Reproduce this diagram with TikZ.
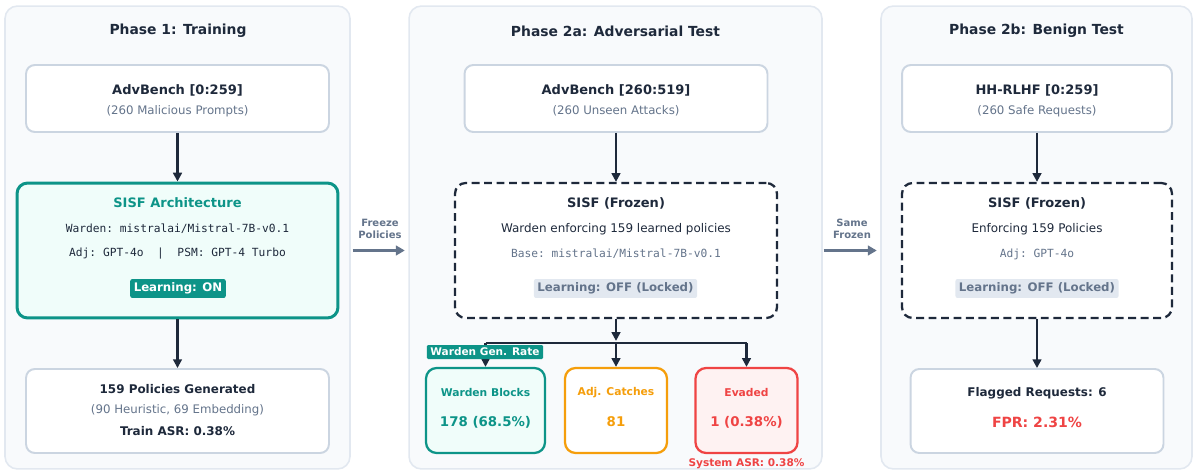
\documentclass[tikz,border=0pt]{standalone}
\usepackage{fontspec}
\setmainfont{DejaVu Sans}
\setmonofont{DejaVu Sans Mono}
\usetikzlibrary{arrows.meta}

\definecolor{ink}{HTML}{1E293B}
\definecolor{muted}{HTML}{64748B}
\definecolor{boxline}{HTML}{CBD5E1}
\definecolor{panelbg}{HTML}{F8FAFC}
\definecolor{panelline}{HTML}{E2E8F0}
\definecolor{sisfteal}{HTML}{0D9488}
\definecolor{tealbg}{HTML}{F0FDFA}
\definecolor{adjorange}{HTML}{F59E0B}
\definecolor{evdred}{HTML}{EF4444}
\definecolor{redbg}{HTML}{FEF2F2}
\definecolor{lockbg}{HTML}{E2E8F0}

\tikzset{
  panel/.style={draw=panelline, fill=panelbg, line width=0.9pt, rounded corners=7pt, minimum height=9.26cm},
  srcbox/.style={draw=boxline, fill=white, line width=1.1pt, rounded corners=5pt},
  livebox/.style={draw=sisfteal, fill=tealbg, line width=1.7pt, rounded corners=6pt},
  frozenbox/.style={draw=ink, fill=white, line width=1.3pt, rounded corners=6pt, dash pattern=on 4.5pt off 2.6pt},
  outbox/.style={line width=1.3pt, rounded corners=6pt, minimum width=2.04cm, minimum height=1.7cm},
  phasetitle/.style={text=ink, font=\bfseries\fontsize{7.9}{9}\selectfont},
  headtxt/.style={text=ink, font=\bfseries\fontsize{7.4}{9}\selectfont},
  subtxt/.style={text=muted, font=\fontsize{6.7}{8}\selectfont},
  bodytxt/.style={text=ink, font=\fontsize{6.8}{8}\selectfont},
  monotxt/.style={text=ink, font=\ttfamily\fontsize{6.4}{8}\selectfont},
  smalltxt/.style={font=\bfseries\fontsize{6.8}{8}\selectfont},
  bigtxt/.style={font=\bfseries\fontsize{7.6}{9}\selectfont},
  onbadge/.style={fill=sisfteal, text=white, font=\bfseries\fontsize{6.7}{8}\selectfont, rounded corners=1.2pt, inner xsep=2pt, inner ysep=0pt, minimum height=0.38cm},
  offbadge/.style={fill=lockbg, text=muted, font=\bfseries\fontsize{6.7}{8}\selectfont, rounded corners=1.2pt, inner xsep=2pt, inner ysep=0pt, minimum height=0.38cm},
  flowline/.style={draw=ink, line width=1.2pt},
  flowarr/.style={flowline, -{Triangle[length=5pt,width=5pt]}},
  phasearr/.style={draw=muted, line width=1.7pt, -{Triangle[length=5pt,width=5.5pt]}},
  phaselbl/.style={text=muted, align=center, font=\bfseries\fontsize{5.7}{6.9}\selectfont}
}

\begin{document}
\begin{tikzpicture}[x=0.02cm,y=-0.02cm]
\useasboundingbox (0,0) rectangle (1194,473);

% panels:
\node[panel, minimum width=6.9cm] (ph1) at (177.5,237.5) {};
\node[panel, minimum width=8.26cm] (ph2) at (615.5,237.5) {};
\node[panel, minimum width=6.22cm] (ph3) at (1036.5,237.5) {};
\node[phasetitle] (ph1t) at (178,31) {Phase 1: Training};
\node[phasetitle] (ph2t) at (615.5,31) {Phase 2a: Adversarial Test};
\node[phasetitle] (ph3t) at (1036.5,31) {Phase 2b: Benign Test};

% phase 1:
\node[srcbox, minimum width=6.06cm, minimum height=1.34cm] (adv1) at (177.5,98.5) {};
\node[headtxt] (adv1t) at (177.5,90) {AdvBench [0:259]};
\node[subtxt] (adv1s) at (177.5,111) {(260 Malicious Prompts)};

\node[livebox, minimum width=6.42cm, minimum height=2.7cm] (sisf1) at (177.5,250.5) {};
\node[headtxt, text=sisfteal] (sisf1t) at (177.5,203) {SISF Architecture};
\node[monotxt] (sisf1w) at (177.5,229) {Warden: mistralai/Mistral-7B-v0.1};
\node[monotxt] (sisf1a) at (177.5,254) {Adj: GPT-4o\ \ |\ \ PSM: GPT-4 Turbo};
\node[onbadge] (sisf1b) at (178,288.5) {Learning: ON};

\node[srcbox, minimum width=6.06cm, minimum height=1.68cm] (pol1) at (177.5,411) {};
\node[smalltxt, text=ink] (pol1t) at (177.5,389) {159 Policies Generated};
\node[subtxt] (pol1s) at (177.5,410) {(90 Heuristic, 69 Embedding)};
\node[smalltxt, text=ink] (pol1a) at (177.5,431) {Train ASR: 0.38\%};

\draw[flowarr] (adv1) -- (sisf1);
\draw[flowarr] (sisf1) -- (pol1);

% phase 2a:
\node[srcbox, minimum width=6.06cm, minimum height=1.34cm] (adv2) at (616,98.5) {};
\node[headtxt] (adv2t) at (616,90) {AdvBench [260:519]};
\node[subtxt] (adv2s) at (616,111) {(260 Unseen Attacks)};

\node[frozenbox, minimum width=6.44cm, minimum height=2.7cm] (sisf2) at (616,250.5) {};
\node[headtxt] (sisf2t) at (616,203) {SISF (Frozen)};
\node[bodytxt] (sisf2w) at (616,229) {Warden enforcing 159 learned policies};
\node[monotxt, text=muted] (sisf2m) at (616,254) {Base: mistralai/Mistral-7B-v0.1};
\node[offbadge] (sisf2b) at (615.5,288.5) {Learning: OFF (Locked)};

\node[outbox, draw=sisfteal, fill=tealbg, minimum width=2.38cm] (blk) at (485.5,410.5) {};
\node[smalltxt, text=sisfteal, font=\bfseries\fontsize{6.1}{8}\selectfont] (blkt) at (485.5,393) {Warden Blocks};
\node[bigtxt, text=sisfteal] (blkn) at (485.5,422) {178 (68.5\%)};
\node[outbox, draw=adjorange, fill=white] (adj) at (616,410.5) {};
\node[smalltxt, text=adjorange, font=\bfseries\fontsize{6.1}{8}\selectfont] (adjt) at (616,393) {Adj. Catches};
\node[bigtxt, text=adjorange] (adjn) at (616,422) {81};
\node[outbox, draw=evdred, fill=redbg] (evd) at (746.5,410.5) {};
\node[smalltxt, text=evdred, font=\bfseries\fontsize{6.1}{8}\selectfont] (evdt) at (746.5,393) {Evaded};
\node[bigtxt, text=evdred] (evdn) at (746.5,422) {1 (0.38\%)};
\node[text=evdred, font=\bfseries\fontsize{6}{7}\selectfont] (sysasr) at (746.5,464) {System ASR: 0.38\%};

\coordinate (jn) at (616,343);
\draw[flowarr] (adv2) -- (sisf2);
\draw[flowarr] (sisf2.south) -- ([yshift=1.2pt]jn);
\draw[flowline] (jn -| blk.north) -- (jn -| evd.north);
\draw[flowarr] (jn -| blk.north) -- (blk.north);
\draw[flowarr] (jn) -- (adj.north);
\draw[flowarr] (jn -| evd.north) -- (evd.north);
\node[onbadge, font=\bfseries\fontsize{6}{7}\selectfont, minimum height=0.28cm, rounded corners=0.6pt] (genrate) at (485,352) {Warden Gen. Rate};

% phase 2b:
\node[srcbox, minimum width=5.4cm, minimum height=1.34cm] (hh) at (1037,98.5) {};
\node[headtxt] (hht) at (1037,90) {HH-RLHF [0:259]};
\node[subtxt] (hhs) at (1037,111) {(260 Safe Requests)};

\node[frozenbox, minimum width=5.4cm, minimum height=2.7cm] (sisf3) at (1037,250.5) {};
\node[headtxt] (sisf3t) at (1037,203) {SISF (Frozen)};
\node[bodytxt] (sisf3w) at (1037,229) {Enforcing 159 Policies};
\node[monotxt, text=muted] (sisf3m) at (1037,254) {Adj: GPT-4o};
\node[offbadge] (sisf3b) at (1037,288.5) {Learning: OFF (Locked)};

\node[srcbox, minimum width=5.06cm, minimum height=1.68cm] (flag) at (1037,411) {};
\node[smalltxt, text=ink] (flagt) at (1037,393) {Flagged Requests: 6};
\node[text=evdred, font=\bfseries\fontsize{8}{9}\selectfont] (fpr) at (1037,422) {FPR: 2.31\%};

\draw[flowarr] (hh) -- (sisf3);
\draw[flowarr] (sisf3) -- (flag);

% between phases:
\draw[phasearr, shorten <=1pt, shorten >=2pt] (ph1.east |- sisf1.east) -- (ph2.west |- sisf1.east);
\draw[phasearr, shorten <=0.5pt, shorten >=2pt] (ph2.east |- sisf1.east) -- (ph3.west |- sisf1.east);
\node[phaselbl] (freeze) at (380,229) {Freeze\\Policies};
\node[phaselbl] (same) at (852,229) {Same\\Frozen};

\end{tikzpicture}
\end{document}
